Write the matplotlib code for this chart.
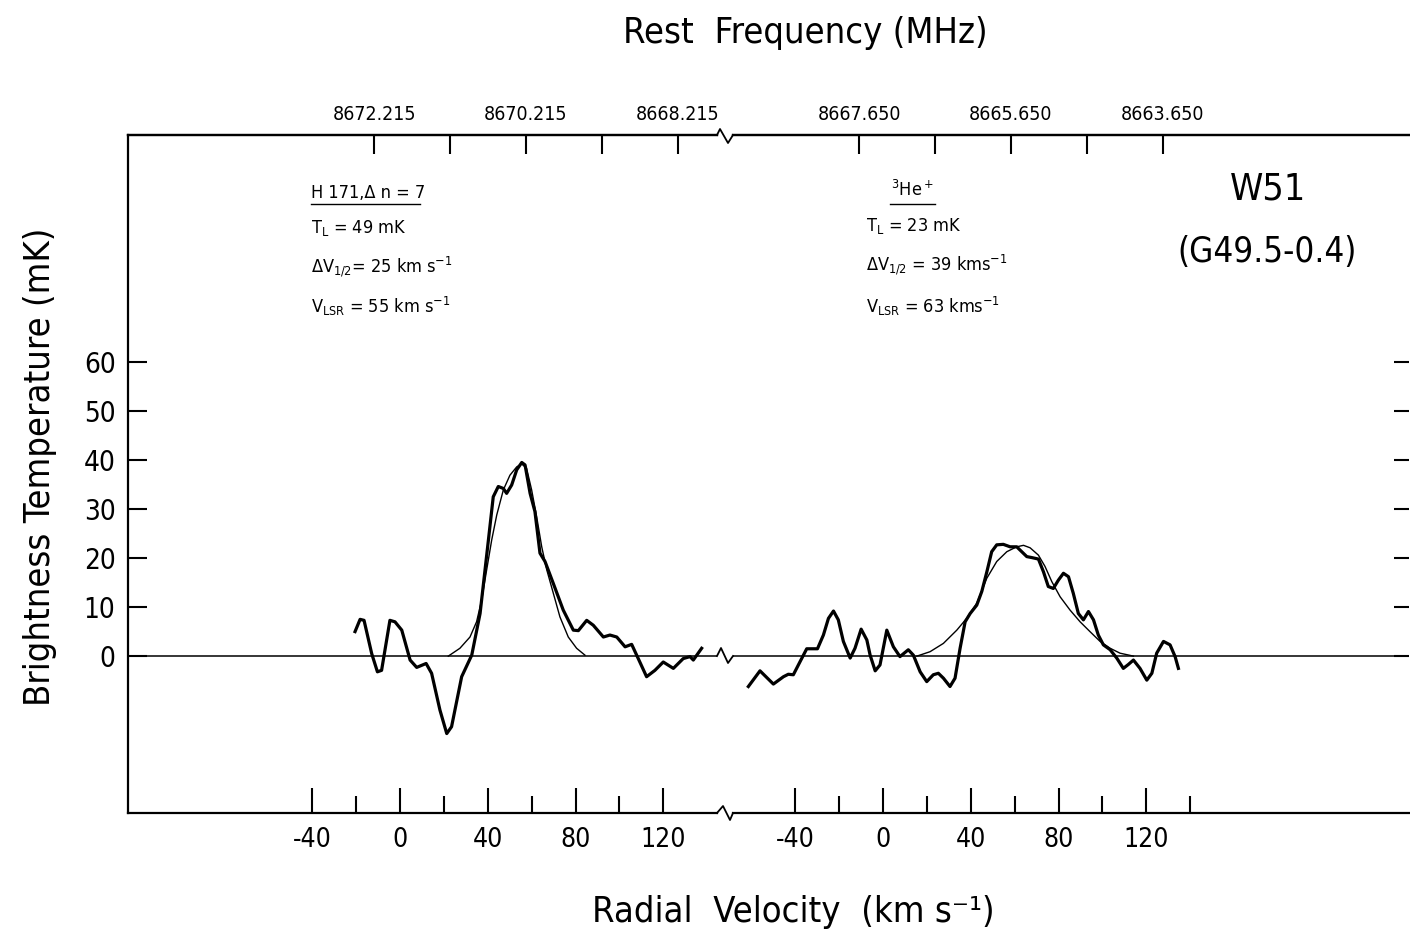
import matplotlib
matplotlib.use("Agg")
import matplotlib.pyplot as plt
from matplotlib.lines import Line2D
from matplotlib.ticker import FixedLocator, FormatStrFormatter

plt.rcParams['font.family'] = ['DejaVu Sans']
plt.rcParams['font.stretch'] = 'condensed'
plt.rcParams['mathtext.fontset'] = 'custom'
plt.rcParams['mathtext.rm'] = 'DejaVu Sans:stretch=condensed'
plt.rcParams['axes.unicode_minus'] = False

# H 171 (Delta n = 7) spectrum, left panel: velocity (km/s) and brightness temp (mK)
h_vel = [-20.5, -18.2, -16.4, -12.9, -10.3, -8.4, -4.6, -2.3, 0.8, 4.6, 7.6, 11.9, 14.4,
         18.2, 21.3, 23.5, 28.1, 32.7, 36.5, 40.3, 42.5, 44.8, 47.1, 48.6, 50.9, 53.2,
         55.5, 57.0, 59.3, 61.5, 63.8, 66.1, 69.9, 74.4, 79.0, 81.3, 85.1, 88.1, 92.7,
         95.7, 98.8, 102.6, 105.6, 108.6, 112.4, 116.2, 120.0, 124.6, 129.1, 132.2,
         133.7, 137.5]
h_temp = [5.0, 7.5, 7.3, 0.5, -3.2, -2.9, 7.3, 7.0, 5.3, -0.8, -2.3, -1.5, -3.5,
          -11.0, -15.8, -14.4, -4.2, 0.2, 8.7, 23.7, 32.5, 34.6, 34.2, 33.2, 34.9, 38.0,
          39.5, 39.0, 33.2, 29.5, 21.0, 19.3, 14.8, 9.4, 5.3, 5.2, 7.3, 6.3, 3.9,
          4.3, 3.9, 1.9, 2.4, -0.5, -4.2, -2.9, -1.2, -2.5, -0.5, -0.1,
          -0.8, 1.6]

# fitted profile drawn over the H line
h_fit_vel = [22.0, 27.3, 31.9, 34.9, 37.2, 39.5, 41.8, 44.1, 47.1, 50.1, 53.2, 55.5,
             57.7, 60.0, 62.3, 64.6, 66.9, 69.9, 72.9, 76.7, 80.5, 84.3]
h_fit_temp = [0.0, 1.6, 3.9, 7.0, 11.4, 17.6, 23.7, 28.8, 33.9, 36.9, 38.6, 39.2,
              38.3, 33.9, 28.4, 22.3, 17.6, 12.8, 8.0, 3.9, 1.6, 0.2]

# 3He+ spectrum, right panel
he_vel = [-61.4, -56.1, -50.0, -45.4, -43.2, -40.9, -37.8, -34.8, -29.9, -27.2, -24.9,
          -22.6, -20.4, -18.1, -15.0, -12.8, -10.0, -7.4, -5.9, -3.6, -1.4, 1.7, 4.7,
          7.7, 11.5, 13.8, 16.9, 19.9, 22.9, 25.2, 27.5, 30.5, 32.8, 35.1, 37.4, 39.7,
          42.7, 45.0, 47.3, 49.5, 51.8, 54.8, 57.9, 60.9, 63.2, 65.5, 67.8, 70.8, 73.1,
          75.3, 77.6, 79.9, 82.2, 84.5, 86.7, 89.0, 91.3, 93.6, 95.9, 98.1, 100.4,
          103.5, 106.5, 109.5, 111.8, 114.1, 117.1, 120.2, 122.5, 124.7, 127.8, 130.8,
          133.1, 134.6]
he_temp = [-6.2, -3.0, -5.7, -4.2, -3.7, -3.8, -1.1, 1.5, 1.5, 4.3, 7.7,
           9.2, 7.4, 3.0, -0.4, 1.6, 5.5, 3.3, 0.2, -3.0, -1.8, 5.3, 1.9,
           -0.1, 1.3, 0.2, -3.2, -5.2, -3.8, -3.5, -4.5, -6.2, -4.5, 1.6, 7.0, 8.7,
           10.4, 13.2, 17.2, 21.3, 22.7, 22.8, 22.3, 22.3, 21.3, 20.3, 20.1, 19.8, 17.2,
           14.2, 13.8, 15.5, 16.9, 16.2, 12.8, 8.7, 7.4, 9.1, 7.4, 4.3, 2.3,
           1.3, -0.4, -2.5, -1.7, -0.8, -2.5, -4.9, -3.5, 0.6, 3.0, 2.3,
           -0.1, -2.5]

he_fit_vel = [15.4, 21.4, 27.5, 33.6, 38.1, 42.7, 47.3, 51.8, 56.4, 60.9, 64.0, 67.0,
              70.8, 73.8, 76.9, 80.7, 85.2, 89.8, 94.3, 98.9, 103.5, 108.0, 114.1]
he_fit_temp = [0.0, 0.9, 2.6, 5.3, 7.7, 10.8, 15.9, 19.3, 21.3, 22.3, 22.6, 22.1,
               20.6, 18.3, 15.2, 12.1, 9.4, 7.0, 5.0, 3.0, 1.6, 0.6, 0.0]

vel_major = [-40, 0, 40, 80, 120]
h_vel_minor = [-20, 20, 60, 100]
he_vel_minor = [-20, 20, 60, 100, 140]
temp_ticks = [0, 10, 20, 30, 40, 50, 60]

h_freq_major = [8672.215, 8670.215, 8668.215]
h_freq_minor = [8671.215, 8669.215]
he_freq_major = [8667.650, 8665.650, 8663.650]
he_freq_minor = [8666.650, 8664.650]

# rest frequency at v = 0 for each panel, and km/s per MHz
H_F0 = 8671.873
HE_F0 = 8667.334
KMS_PER_MHZ = 34.6

W, H = 1410, 939


def fx(px):
    return px / W


def fy(py):
    return 1 - py / H


fig = plt.figure(figsize=(W / 100, H / 100), dpi=100)
ax1 = fig.add_axes([fx(128), fy(813), fx(717) - fx(128), fy(135) - fy(813)])
ax2 = fig.add_axes([fx(733), fy(813), fx(1409) - fx(733), fy(135) - fy(813)])

for ax in (ax1, ax2):
    ax.set_ylim(-32, 106.3)
    ax.axhline(0, color='k', lw=1.1)
    for s in ax.spines.values():
        s.set_linewidth(1.6)
    ax.tick_params(axis='x', which='both', direction='in', top=False, width=1.5,
                   labelsize=19, pad=10)
    ax.tick_params(axis='x', which='major', length=18)
    ax.tick_params(axis='x', which='minor', length=12)
    ax.xaxis.set_major_locator(FixedLocator(vel_major))
    ax.set_yticks(temp_ticks)

ax1.set_xlim(-124.0, 144.5)
ax2.set_xlim(-68.4, 239.7)
ax1.xaxis.set_minor_locator(FixedLocator(h_vel_minor))
ax2.xaxis.set_minor_locator(FixedLocator(he_vel_minor))

ax1.spines['right'].set_visible(False)
ax2.spines['left'].set_visible(False)
ax2.spines['right'].set_visible(False)

ax1.tick_params(axis='y', direction='in', length=14, width=1.5, labelsize=20, pad=9)
ax2.tick_params(axis='y', direction='in', length=11, width=1.5, left=False, right=True,
                labelleft=False, labelright=False)

ax1.plot(h_vel, h_temp, color='k', lw=2.3)
ax1.plot(h_fit_vel, h_fit_temp, color='k', lw=1.0)
ax2.plot(he_vel, he_temp, color='k', lw=2.3)
ax2.plot(he_fit_vel, he_fit_temp, color='k', lw=1.0)

# frequency scales on top
sec1 = ax1.secondary_xaxis('top', functions=(lambda v: H_F0 - v / KMS_PER_MHZ,
                                              lambda f: (H_F0 - f) * KMS_PER_MHZ))
sec2 = ax2.secondary_xaxis('top', functions=(lambda v: HE_F0 - v / KMS_PER_MHZ,
                                              lambda f: (HE_F0 - f) * KMS_PER_MHZ))
for sec, fmaj, fmin in ((sec1, h_freq_major, h_freq_minor),
                        (sec2, he_freq_major, he_freq_minor)):
    sec.xaxis.set_major_locator(FixedLocator(fmaj))
    sec.xaxis.set_minor_locator(FixedLocator(fmin))
    sec.xaxis.set_major_formatter(FormatStrFormatter('%.3f'))
    sec.tick_params(which='both', direction='in', length=14, width=1.5, labelsize=14, pad=8)
    sec.spines['top'].set_linewidth(1.6)

# axis breaks
for pts in ([(717, 135), (720, 129), (728, 143), (733, 135)],
            [(717, 813), (723, 806), (730, 820), (733, 813)],
            [(717, 656), (721, 648), (728, 663), (733, 656)]):
    fig.add_artist(Line2D([fx(p[0]) for p in pts], [fy(p[1]) for p in pts],
                          transform=fig.transFigure, color='k', lw=1.3))

fig.text(fx(805), fy(33), 'Rest  Frequency (MHz)', fontsize=26, ha='center', va='center')
fig.text(fx(793), fy(912), 'Radial  Velocity  (km s⁻¹)', fontsize=26,
         ha='center', va='center')
fig.text(fx(40), fy(467), 'Brightness Temperature (mK)', fontsize=26, rotation=90,
         ha='center', va='center')

fig.text(fx(1268), fy(190), 'W51', fontsize=27, ha='center', va='center')
fig.text(fx(1267), fy(252), '(G49.5-0.4)', fontsize=25, ha='center', va='center')

# line parameters
fs = 13
fig.text(fx(311), fy(193), 'H 171,Δ n = 7', fontsize=fs, ha='left', va='center')
fig.add_artist(Line2D([fx(311), fx(420)], [fy(204), fy(204)],
                      transform=fig.transFigure, color='k', lw=1.0))
fig.text(fx(311), fy(228), r'$\mathregular{T_L}$ = 49 mK', fontsize=fs, va='center')
fig.text(fx(311), fy(267), r'$\mathregular{\Delta V_{1/2}}$= 25 km s$\mathregular{^{-1}}$',
         fontsize=fs, va='center')
fig.text(fx(311), fy(306), r'$\mathregular{V_{LSR}}$ = 55 km s$\mathregular{^{-1}}$',
         fontsize=fs, va='center')

fig.text(fx(912), fy(190), r'$\mathregular{^3He^+}$', fontsize=fs, ha='center', va='center')
fig.add_artist(Line2D([fx(890), fx(935)], [fy(204), fy(204)],
                      transform=fig.transFigure, color='k', lw=1.0))
fig.text(fx(866), fy(226), r'$\mathregular{T_L}$ = 23 mK', fontsize=fs, va='center')
fig.text(fx(866), fy(265), r'$\mathregular{\Delta V_{1/2}}$ = 39 kms$\mathregular{^{-1}}$',
         fontsize=fs, va='center')
fig.text(fx(866), fy(306), r'$\mathregular{V_{LSR}}$ = 63 kms$\mathregular{^{-1}}$',
         fontsize=fs, va='center')

fig.savefig('out.png', dpi=100)
